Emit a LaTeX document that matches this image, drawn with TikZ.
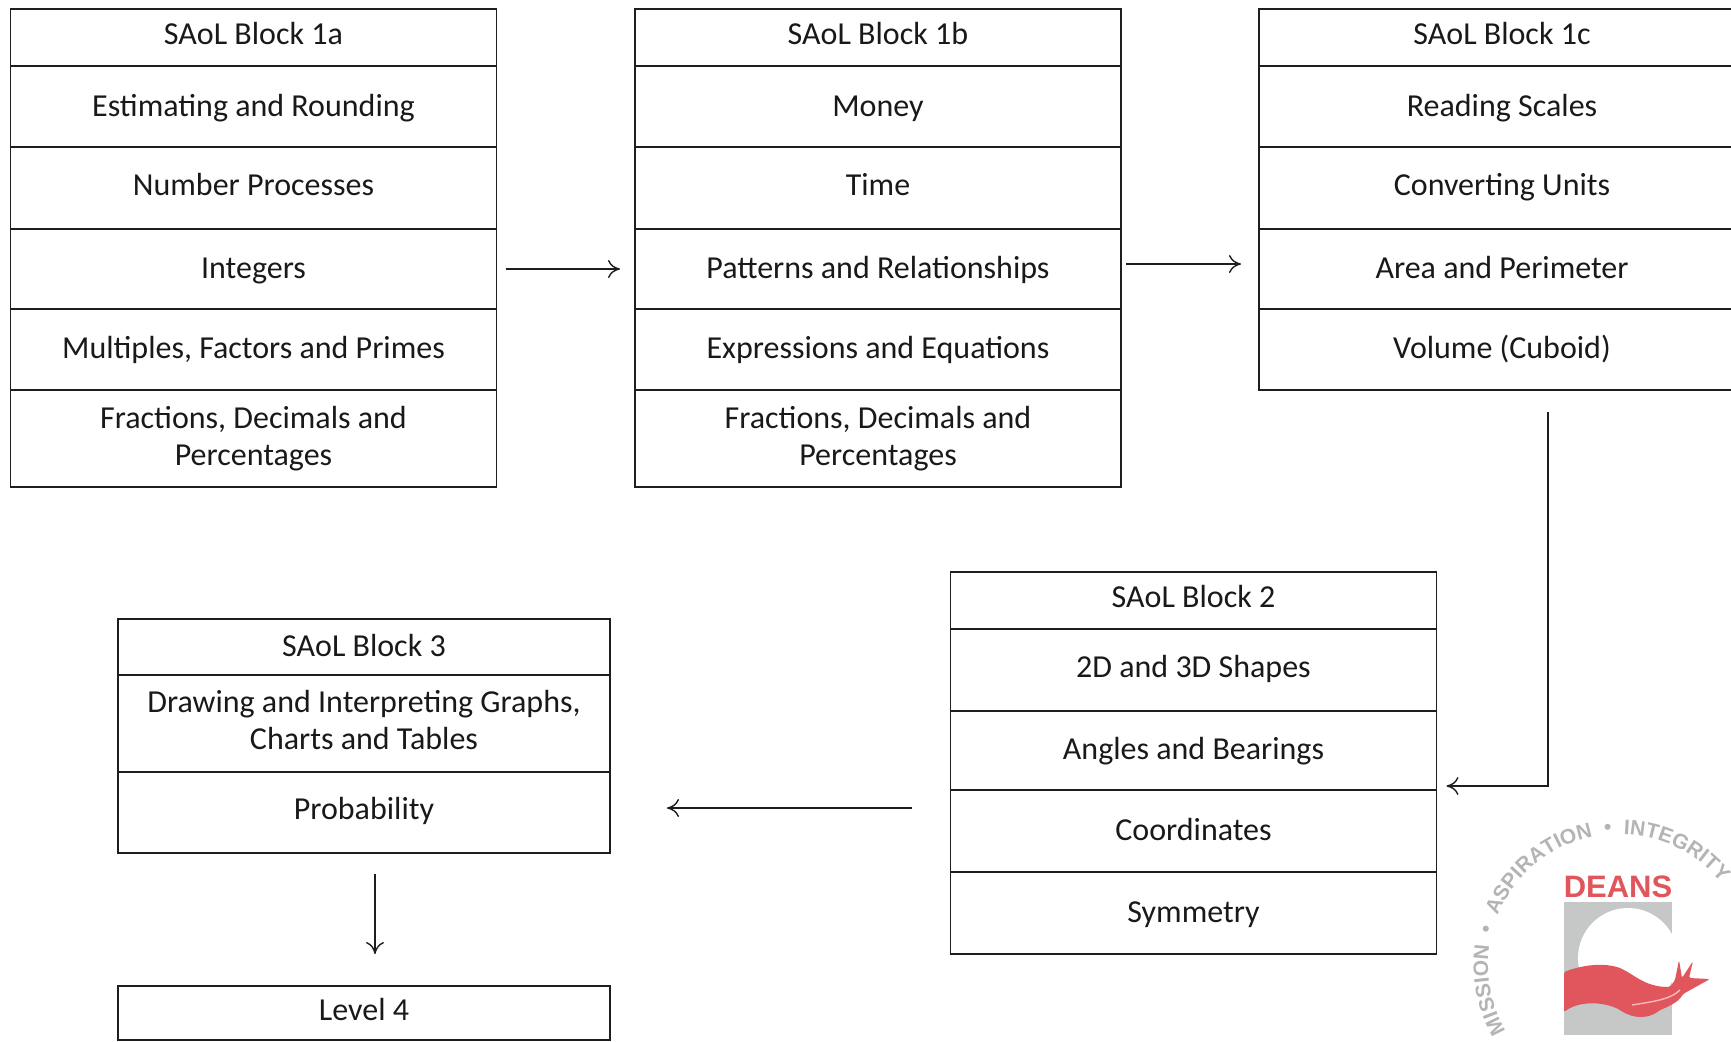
\documentclass[tikz,border=0pt]{standalone}
\usepackage{fontspec}
\setmainfont{Carlito}
\newfontfamily\sealfont{Liberation Sans}
\usetikzlibrary{arrows.meta,decorations.text}
\definecolor{boxline}{HTML}{1E1E1E}
\definecolor{sealgray}{HTML}{B4B4B4}
\definecolor{sealpanel}{HTML}{C6C8C8}
\definecolor{sealred}{HTML}{E0565C}
\tikzset{
    cellbox/.style={draw=boxline, line width=0.9pt, minimum width=243pt, inner sep=0pt,
        outer sep=0pt, anchor=north, align=center, text=black!90,
        font=\fontsize{16}{18.5}\selectfont},
    oneline/.style={text height=10pt, text depth=3pt},
    lowline/.style={text height=10.2pt, text depth=1pt},
    lowerline/.style={text height=11.2pt, text depth=1pt},
    flowarrow/.style={draw=boxline, line width=0.7pt, -{To[length=6pt,width=9pt]}}
}

\begin{document}
\begin{tikzpicture}[x=0.5pt, y=0.5pt]
    \useasboundingbox (0,0) rectangle (1731,-1041);

    % block 1a
    \node[cellbox, oneline, minimum height=28.5pt] (head1a) at (253.5,-9) {SAoL Block 1a};
    \node[cellbox, lowerline, minimum height=40.5pt] (est1a) at (253.5,-66) {Estimating and Rounding};
    \node[cellbox, oneline, minimum height=41pt] (num1a) at (253.5,-147) {Number Processes};
    \node[cellbox, lowline, minimum height=40pt] (ints1a) at (253.5,-229) {Integers};
    \node[cellbox, lowline, minimum height=40.5pt] (mult1a) at (253.5,-309) {Multiples, Factors and Primes};
    \node[cellbox, minimum height=48.5pt] (frac1a) at (253.5,-390) {Fractions, Decimals and\\Percentages};

    % block 1b
    \node[cellbox, oneline, minimum height=28.5pt] (head1b) at (878,-9) {SAoL Block 1b};
    \node[cellbox, lowerline, minimum height=40.5pt] (money1b) at (878,-66) {Money};
    \node[cellbox, oneline, minimum height=41pt] (time1b) at (878,-147) {Time};
    \node[cellbox, lowline, minimum height=40pt] (pat1b) at (878,-229) {Patterns and Relationships};
    \node[cellbox, lowline, minimum height=40.5pt] (expr1b) at (878,-309) {Expressions and Equations};
    \node[cellbox, minimum height=48.5pt] (frac1b) at (878,-390) {Fractions, Decimals and\\Percentages};

    % block 1c, runs off the page
    \node[cellbox, oneline, minimum height=28.5pt] (head1c) at (1502,-9) {SAoL Block 1c};
    \node[cellbox, lowerline, minimum height=40.5pt] (scale1c) at (1502,-66) {Reading Scales};
    \node[cellbox, oneline, minimum height=41pt] (conv1c) at (1502,-147) {Converting Units};
    \node[cellbox, lowline, minimum height=40pt] (area1c) at (1502,-229) {Area and Perimeter};
    \node[cellbox, lowline, minimum height=40.5pt] (vol1c) at (1502,-309) {Volume (Cuboid)};

    % block 2
    \node[cellbox, oneline, minimum height=28.5pt] (head2) at (1193.5,-572) {SAoL Block 2};
    \node[cellbox, oneline, minimum height=41pt] (shape2) at (1193.5,-629) {2D and 3D Shapes};
    \node[cellbox, lowline, minimum height=39.5pt] (angle2) at (1193.5,-711) {Angles and Bearings};
    \node[cellbox, lowline, minimum height=41pt] (coord2) at (1193.5,-790) {Coordinates};
    \node[cellbox, lowline, minimum height=41pt] (sym2) at (1193.5,-872) {Symmetry};

    % block 3 and level 4
    \node[cellbox, lowline, minimum width=246pt, minimum height=28pt] (head3) at (364,-619) {SAoL Block 3};
    \node[cellbox, text depth=3.7pt, minimum width=246pt, minimum height=48.5pt] (graph3) at (364,-675) {Drawing and Interpreting Graphs,\\Charts and Tables};
    \node[cellbox, oneline, minimum width=246pt, minimum height=40.5pt] (prob3) at (364,-772) {Probability};
    \node[cellbox, oneline, minimum width=246pt, minimum height=27pt] (level4) at (364,-986) {Level 4};

    % arrows
    \draw[flowarrow, shorten <=4.5pt, shorten >=7.5pt] (ints1a.east) -- (pat1b.west);
    \draw[flowarrow, shorten <=2.5pt, shorten >=9pt] ([yshift=2.5pt]pat1b.east) -- ([yshift=2.5pt]area1c.west);
    \draw[flowarrow, shorten <=11pt, shorten >=5pt] ([xshift=23pt]vol1c.south) |- ([yshift=-17.75pt]angle2.east);
    \draw[flowarrow, shorten <=19.5pt, shorten >=28.5pt] ([yshift=11.5pt]coord2.west) -- ([yshift=2.25pt]prob3.east);
    \draw[flowarrow, shorten <=10.5pt, shorten >=16pt] ([xshift=5.5pt]prob3.south) -- ([xshift=5.5pt]level4.north);

    % seal
    \fill[sealpanel] (1564,-902) rectangle (1672,-1035);
    \fill[white] (1628,-958) circle (50);
    \fill[white] (1672,-925) rectangle (1680,-1000);
    \fill[sealred, rounded corners=0.8pt] (1564,-972) .. controls (1585,-964) and (1605,-963) .. (1620,-968)
        .. controls (1635,-975) and (1645,-987) .. (1670,-987)
        -- (1675,-980) -- (1679,-960) -- (1682,-978) -- (1693,-961) -- (1689,-978) -- (1710,-979)
        -- (1683,-994) .. controls (1678,-1003) and (1665,-1008) .. (1660,-1010)
        .. controls (1650,-1018) and (1635,-1020) .. (1620,-1010)
        .. controls (1605,-1002) and (1580,-1000) .. (1564,-1012) -- cycle;
    \draw[sealred!40!white, line width=0.7pt] (1632,-1005) .. controls (1650,-1002) and (1670,-1000) .. (1680,-990);
    \node[text=sealred, inner sep=0pt, anchor=base, font=\sealfont\bfseries\fontsize{15.5}{15.5}\selectfont] (deans) at (1618,-897) {DEANS};
    \path[decorate, decoration={text along path, text align=right,
        text={|\sealfont\bfseries\fontsize{10.5}{10.5}\selectfont\color{sealgray}|MISSION {\ }•{\ } ASPIRATION {\ }•{\ } INTEGRITY}}]
        (1619,-965) ++(280:131) arc[start angle=280, end angle=39, radius=131];
\end{tikzpicture}
\end{document}
